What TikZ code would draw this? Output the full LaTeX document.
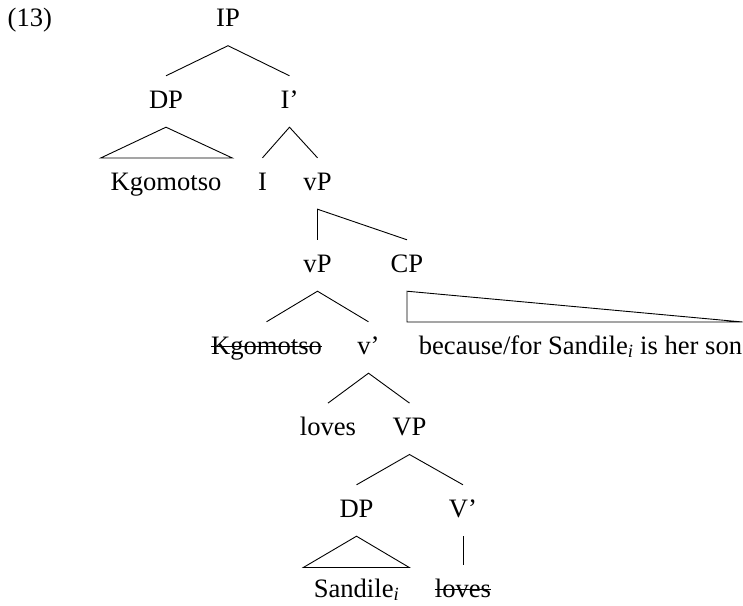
\documentclass[tikz,border=0pt]{standalone}
\usepackage{fontspec}
\setmainfont{Liberation Serif}
\begin{document}
\begin{tikzpicture}[x=1pt,y=-1pt,
  lbl/.style={anchor=base, inner sep=0pt, text height=32pt, text depth=19pt,
    font=\fontsize{26.6}{31}\selectfont},
  branch/.style={line width=0.9pt, line join=miter},
  strike/.style={line width=1pt}]
  \useasboundingbox (0,0) rectangle (743,605);

  % example number
  \node[anchor=base west, inner sep=0pt, font=\fontsize{26.6}{31}\selectfont] (num) at (7.5,26.5) {(13)};

  % nodes, row by row
  \node[lbl] (ip)    at (228,26.5)  {IP};
  \node[lbl] (dpA)   at (166,108)   {DP};
  \node[lbl] (ibar)  at (289.5,108) {I'};
  \node[lbl] (kgA)   at (166,190)   {Kgomotso};
  \node[lbl] (i)     at (262.5,190) {I};
  \node[lbl] (vpA)   at (317.5,190) {vP};
  \node[lbl] (vpB)   at (317.5,272) {vP};
  \node[lbl] (cp)    at (407,272)   {CP};
  \node[lbl] (kgB)   at (266.5,354) {Kgomotso};
  \node[lbl] (vbar)  at (368.5,354) {v'};
  \node[lbl] (cptxt) at (580.5,354) {because/for Sandile\textsubscript{\itshape i} is her son};
  \node[lbl] (lovA)  at (328,435.3) {loves};
  \node[lbl] (vp)    at (409.5,435.3) {VP};
  \node[lbl] (dpB)   at (356.5,517) {DP};
  \node[lbl] (vbarB) at (463,517)   {V'};
  \node[lbl] (sand)  at (356.5,597) {Sandile\textsubscript{\itshape i}};
  \node[lbl] (lovB)  at (463,597)   {loves};

  % struck-out copies
  \draw[strike] ([yshift=8pt]kgB.base west) -- ([yshift=8pt]kgB.base east);
  \draw[strike] ([yshift=8pt]lovB.base west) -- ([yshift=8pt]lovB.base east);

  % roof corners
  \coordinate (roofA1) at (100.7,158);
  \coordinate (roofA2) at (232.3,158);
  \coordinate (roofB1) at (303.3,567.5);
  \coordinate (roofB2) at (409.3,567.5);
  \coordinate (roofC1) at (407,322);
  \coordinate (roofC2) at (742.6,322);

  % branches
  \draw[branch] (dpA.north) -- (ip.south) -- (ibar.north);
  \draw[branch] (i.north) -- (ibar.south) -- (vpA.north);
  \draw[branch] (vpB.north) -- (vpA.south) -- (cp.north);
  \draw[branch] (kgB.north) -- (vpB.south) -- (vbar.north);
  \draw[branch] (lovA.north) -- (vbar.south) -- (vp.north);
  \draw[branch] (dpB.north) -- (vp.south) -- (vbarB.north);
  \draw[branch] (vbarB.south) -- (lovB.north);

  % roofs
  \draw[branch] (dpA.south) -- (roofA1) -- (roofA2) -- cycle;
  \draw[branch] (dpB.south) -- (roofB1) -- (roofB2) -- cycle;
  \draw[branch] (cp.south) -- (roofC1) -- (roofC2) -- cycle;
\end{tikzpicture}
\end{document}
